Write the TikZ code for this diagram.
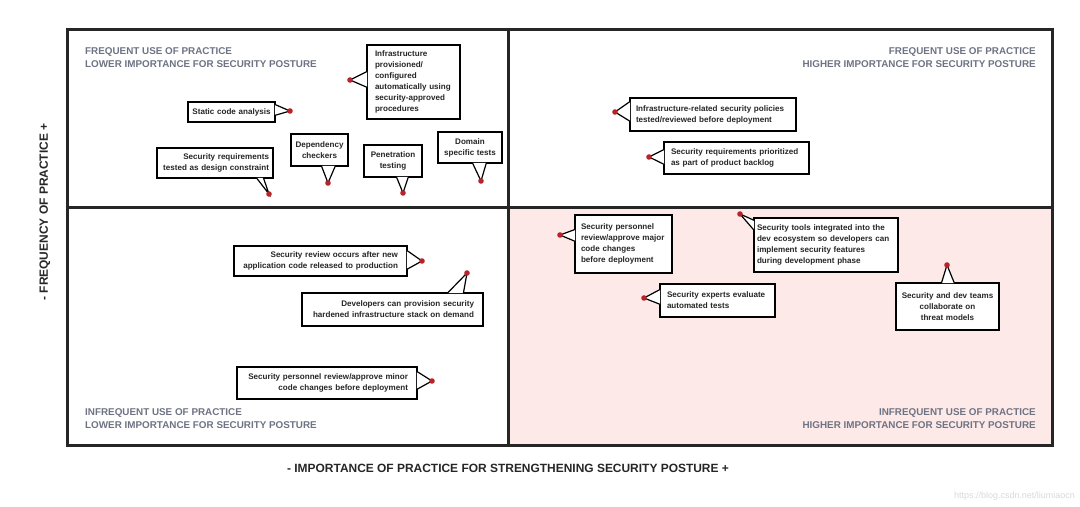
\documentclass[tikz,border=0pt]{standalone}
\usepackage{fontspec}
\setmainfont{Liberation Sans}
\usetikzlibrary{positioning,calc}
\definecolor{quadpink}{HTML}{FDEAE8}
\definecolor{headgray}{HTML}{6E7383}
\definecolor{pinred}{HTML}{B8232A}
\definecolor{framegray}{HTML}{262626}

\begin{document}
\begin{tikzpicture}[x=1bp,y=-1bp,
	frame/.style={line width=3bp, draw=framegray},
	quadhead/.style={font=\fontsize{9.9}{13}\selectfont\bfseries, text=headgray, inner sep=0pt},
	axislabel/.style={font=\fontsize{12}{14}\selectfont\bfseries, text=black!85, inner sep=0pt},
	callout/.style={draw=black, fill=white, line width=1.2bp, inner ysep=0pt, inner xsep=7bp,
		font=\fontsize{8.1}{11.2}\selectfont\bfseries, text=black!85},
	tail/.style={draw=black, fill=white, line width=1.2bp},
	pin/.style={fill=pinred}]
	\useasboundingbox (0,0) rectangle (1080,507);

	% quadrants
	\fill[quadpink] (508,208) rectangle (1052,445);
	\draw[frame] (67,30) rectangle (1052,445);
	\draw[frame] (508,30) -- (508,445);
	\draw[frame] (67,208) -- (1052,208);

	\node[quadhead, anchor=west, align=left] (headfl) at (85,57.5) {FREQUENT USE OF PRACTICE\\LOWER IMPORTANCE FOR SECURITY POSTURE};
	\node[quadhead, anchor=east, align=right] (headfh) at (1036,57.5) {FREQUENT USE OF PRACTICE\\HIGHER IMPORTANCE FOR SECURITY POSTURE};
	\node[quadhead, anchor=west, align=left] (headil) at (85,419) {INFREQUENT USE OF PRACTICE\\LOWER IMPORTANCE FOR SECURITY POSTURE};
	\node[quadhead, anchor=east, align=right] (headih) at (1036,419) {INFREQUENT USE OF PRACTICE\\HIGHER IMPORTANCE FOR SECURITY POSTURE};

	% axes
	\node[axislabel, rotate=90] (freq) at (45,212) {- FREQUENCY OF PRACTICE +};
	\node[axislabel] (imp) at (508,468) {- IMPORTANCE OF PRACTICE FOR STRENGTHENING SECURITY POSTURE +};
	\node[font=\fontsize{9}{11}\selectfont, text=black!15, anchor=east, inner sep=0pt] (mark) at (1075,496) {https://blog.csdn.net/liumiaocn};

	% frequent, lower importance
	\node[callout, text width=77bp, inner xsep=8bp, minimum height=74bp, align=left] (infra) at (413.5,82) {Infrastructure\\provisioned/\\configured\\automatically using\\security-approved\\procedures};
	\coordinate (infra-pin) at (350,80);
	\filldraw[tail] ($(infra.north west)+(0.8,27)$) -- (infra-pin) -- ($(infra.north west)+(0.8,43)$);
	\node[callout, text width=79bp, inner xsep=4bp, minimum height=20bp, align=center] (sca) at (231.5,112) {Static code analysis};
	\coordinate (sca-pin) at (290,111);
	\filldraw[tail] ($(sca.north east)+(-0.8,3)$) -- (sca-pin) -- ($(sca.north east)+(-0.8,14)$);
	\node[callout, text width=108bp, inner xsep=4bp, minimum height=30bp, align=right] (sreq) at (215,163) {Security requirements\\tested as design constraint};
	\coordinate (sreq-pin) at (269,194);
	\filldraw[tail] ($(sreq.south west)+(100,-0.8)$) -- (sreq-pin) -- ($(sreq.south west)+(107,-0.8)$);
	\node[callout, text width=50bp, inner xsep=3.5bp, minimum height=32bp, align=center] (dep) at (319.5,150) {Dependency\\checkers};
	\coordinate (dep-pin) at (328,183);
	\filldraw[tail] ($(dep.south west)+(31,-0.8)$) -- (dep-pin) -- ($(dep.south west)+(45,-0.8)$);
	\node[callout, text width=50bp, inner xsep=4bp, minimum height=32bp, align=center] (pen) at (393,161) {Penetration\\testing};
	\coordinate (pen-pin) at (403,193);
	\filldraw[tail] ($(pen.south west)+(33,-0.8)$) -- (pen-pin) -- ($(pen.south west)+(45,-0.8)$);
	\node[callout, text width=56bp, inner xsep=4bp, minimum height=31bp, align=center] (dom) at (470,147.5) {Domain\\specific tests};
	\coordinate (dom-pin) at (481,181);
	\filldraw[tail] ($(dom.south west)+(35,-0.8)$) -- (dom-pin) -- ($(dom.south west)+(49,-0.8)$);

	% frequent, higher importance
	\node[callout, text width=154bp, inner xsep=6bp, minimum height=33bp, align=left] (infrapol) at (713,114.5) {Infrastructure-related security policies\\tested/reviewed before deployment};
	\coordinate (infrapol-pin) at (615,112);
	\filldraw[tail] ($(infrapol.north west)+(0.8,4)$) -- (infrapol-pin) -- ($(infrapol.north west)+(0.8,24)$);
	\node[callout, text width=131bp, minimum height=32bp, align=left] (backlog) at (736.5,158) {Security requirements prioritized\\as part of product backlog};
	\coordinate (backlog-pin) at (649,157);
	\filldraw[tail] ($(backlog.north west)+(0.8,8)$) -- (backlog-pin) -- ($(backlog.north west)+(0.8,23)$);

	% infrequent, lower importance
	\node[callout, text width=155bp, inner xsep=9bp, minimum height=30bp, align=right] (review) at (320.5,261) {Security review occurs after new\\application code released to production};
	\coordinate (review-pin) at (422,261);
	\filldraw[tail] ($(review.north east)+(-0.8,5)$) -- (review-pin) -- ($(review.north east)+(-0.8,24)$);
	\node[callout, text width=163bp, inner xsep=9bp, minimum height=33bp, align=right] (provision) at (392.5,309.5) {Developers can provision security\\hardened infrastructure stack on demand};
	\coordinate (provision-pin) at (467,273);
	\filldraw[tail] ($(provision.north west)+(146,0.8)$) -- (provision-pin) -- ($(provision.north west)+(162,0.8)$);
	\node[callout, text width=162bp, inner xsep=9bp, minimum height=32bp, align=right] (minor) at (327,383) {Security personnel review/approve minor\\code changes before deployment};
	\coordinate (minor-pin) at (432,381);
	\filldraw[tail] ($(minor.north east)+(-0.8,5)$) -- (minor-pin) -- ($(minor.north east)+(-0.8,23)$);

	% infrequent, higher importance
	\node[callout, text width=85bp, inner xsep=6bp, minimum height=58bp, align=left] (major) at (623.5,244) {Security personnel\\review/approve major\\code changes\\before deployment};
	\coordinate (major-pin) at (560,235);
	\filldraw[tail] ($(major.north west)+(0.8,15)$) -- (major-pin) -- ($(major.north west)+(0.8,27)$);
	\node[callout, text width=138bp, inner xsep=3bp, minimum height=54bp, align=left] (tools) at (826,245) {Security tools integrated into the\\dev ecosystem so developers can\\implement security features\\during development phase};
	\coordinate (tools-pin) at (740,214);
	\filldraw[tail] ($(tools.north west)+(0.8,3)$) -- (tools-pin) -- ($(tools.north west)+(0.8,13)$);
	\node[callout, text width=101bp, minimum height=33bp, align=left] (experts) at (717.5,300.5) {Security experts evaluate\\automated tests};
	\coordinate (experts-pin) at (644,298);
	\filldraw[tail] ($(experts.north west)+(0.8,6)$) -- (experts-pin) -- ($(experts.north west)+(0.8,21)$);
	\node[callout, text width=93bp, inner xsep=5bp, minimum height=47bp, align=center] (teams) at (947.5,306.5) {Security and dev teams\\collaborate on\\threat models};
	\coordinate (teams-pin) at (947,265);
	\filldraw[tail] ($(teams.north west)+(46,0.8)$) -- (teams-pin) -- ($(teams.north west)+(59,0.8)$);

	\foreach \p in {infra,sca,sreq,dep,pen,dom,infrapol,backlog,review,provision,minor,major,tools,experts,teams}
		\fill[pin] (\p-pin) circle (2.8);
\end{tikzpicture}
\end{document}
